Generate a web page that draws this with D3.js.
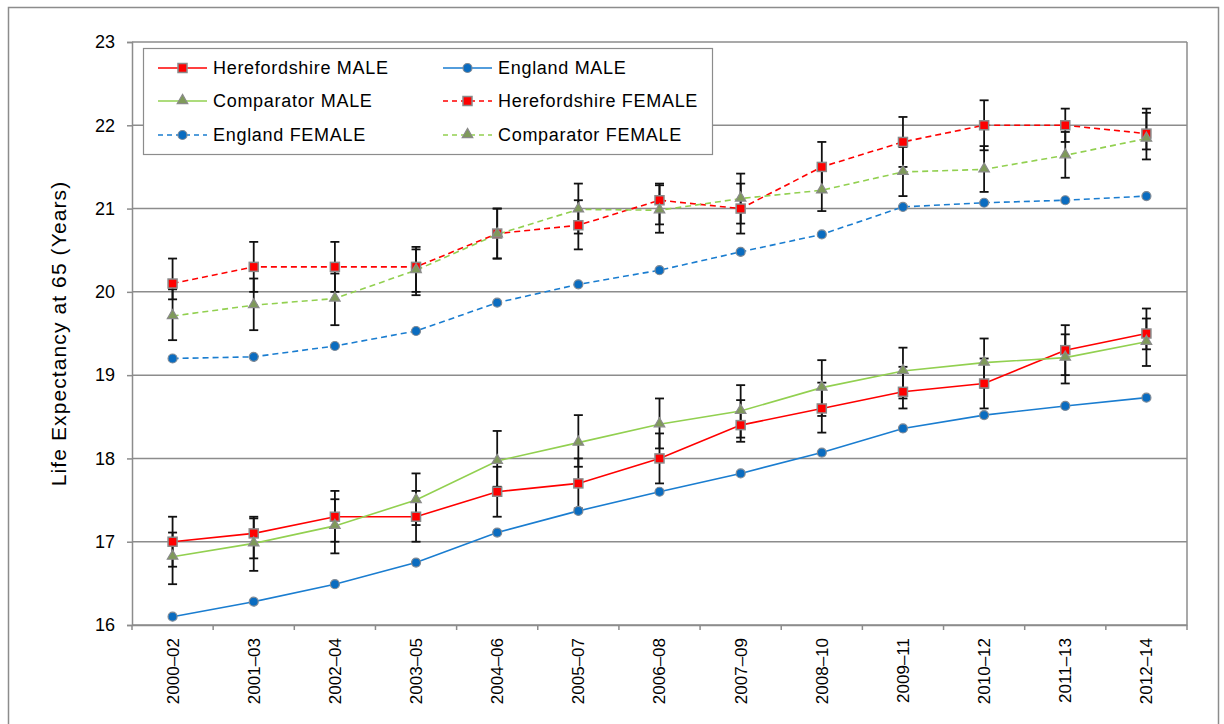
<!DOCTYPE html>
<meta charset="utf-8">
<style>
  body { margin: 0; background: white; }
  text { font-family: "Liberation Sans", Arial, sans-serif; fill: #000; }
</style>
<body>
<div id="chart"></div>
<script src="https://d3js.org/d3.v7.min.js"></script>
<script>

var periods = ["2000\u201302", "2001\u201303", "2002\u201304", "2003\u201305", "2004\u201306", "2005\u201307",
  "2006\u201308", "2007\u201309", "2008\u201310", "2009\u201311", "2010\u201312", "2011\u201313", "2012\u201314"];
var yTicks = [16, 17, 18, 19, 20, 21, 22, 23];

var hereMale = [17.0, 17.1, 17.3, 17.3, 17.6, 17.7, 18.0, 18.4, 18.6, 18.8, 18.9, 19.3, 19.5];
var hereMaleLo = [16.7, 16.8, 17.0, 17.0, 17.3, 17.4, 17.7, 18.2, 18.31, 18.6, 18.6, 19.0, 19.31];
var hereMaleHi = [17.3, 17.3, 17.61, 17.61, 17.9, 18.0, 18.3, 18.7, 18.91, 19.1, 19.2, 19.6, 19.8];

var engMale = [16.10, 16.28, 16.49, 16.75, 17.11, 17.37, 17.60, 17.82, 18.07, 18.36, 18.52, 18.63, 18.73];

var compMale = [16.82, 16.98, 17.19, 17.50, 17.97, 18.19, 18.41, 18.57, 18.85, 19.05, 19.15, 19.21, 19.40];
var compMaleLo = [16.49, 16.65, 16.86, 17.2, 17.66, 17.9, 18.12, 18.25, 18.51, 18.72, 18.85, 18.9, 19.11];
var compMaleHi = [17.11, 17.28, 17.51, 17.82, 18.33, 18.52, 18.72, 18.88, 19.18, 19.33, 19.44, 19.49, 19.68];

var hereFemale = [20.1, 20.3, 20.3, 20.3, 20.7, 20.8, 21.1, 21.0, 21.5, 21.8, 22.0, 22.0, 21.9];
var hereFemaleLo = [19.91, 20.0, 20.0, 20.0, 20.4, 20.51, 20.81, 20.7, 21.2, 21.5, 21.7, 21.8, 21.71];
var hereFemaleHi = [20.4, 20.6, 20.6, 20.54, 21.0, 21.1, 21.3, 21.3, 21.8, 22.1, 22.3, 22.2, 22.2];

var engFemale = [19.20, 19.22, 19.35, 19.53, 19.87, 20.09, 20.26, 20.48, 20.69, 21.02, 21.07, 21.10, 21.15];

var compFemale = [19.71, 19.84, 19.92, 20.26, 20.69, 20.99, 20.98, 21.12, 21.22, 21.44, 21.47, 21.64, 21.84];
var compFemaleLo = [19.42, 19.54, 19.6, 19.96, 20.4, 20.7, 20.71, 20.82, 20.97, 21.15, 21.2, 21.37, 21.59];
var compFemaleHi = [20.03, 20.16, 20.22, 20.51, 21.0, 21.3, 21.28, 21.42, 21.5, 21.74, 21.75, 21.92, 22.15];

var series = [
  {name: "Herefordshire MALE", values: hereMale, lo: hereMaleLo, hi: hereMaleHi, color: "#ff0000", dash: null, marker: "square"},
  {name: "England MALE", values: engMale, lo: null, hi: null, color: "#1a7dd0", dash: null, marker: "circle"},
  {name: "Comparator MALE", values: compMale, lo: compMaleLo, hi: compMaleHi, color: "#92d050", dash: null, marker: "triangle"},
  {name: "Herefordshire FEMALE", values: hereFemale, lo: hereFemaleLo, hi: hereFemaleHi, color: "#ff0000", dash: "6,4", marker: "square"},
  {name: "England FEMALE", values: engFemale, lo: null, hi: null, color: "#1a7dd0", dash: "6,4", marker: "circle"},
  {name: "Comparator FEMALE", values: compFemale, lo: compFemaleLo, hi: compFemaleHi, color: "#92d050", dash: "6,4", marker: "triangle"}
];

var W = 1224, H = 724;
var plot = {left: 132, top: 42, right: 1187, bottom: 625};

var svg = d3.select("#chart").append("svg")
  .attr("width", W).attr("height", H);

// outer chart border
svg.append("rect")
  .attr("x", 8.5).attr("y", 7.5)
  .attr("width", 1210).attr("height", 740)
  .attr("fill", "none").attr("stroke", "#8c8c8c").attr("stroke-width", 1.5);

var x = d3.scaleBand().domain(periods).range([plot.left, plot.right]).padding(0);
var y = d3.scaleLinear().domain([16, 23]).range([plot.bottom, plot.top]);
var cx = function(i) { return x(periods[i]) + x.bandwidth() / 2; };

// gridlines
svg.append("g").selectAll("line").data(yTicks).enter().append("line")
  .attr("x1", plot.left).attr("x2", plot.right)
  .attr("y1", function(d) { return y(d); }).attr("y2", function(d) { return y(d); })
  .attr("stroke", "#8c8c8c").attr("stroke-width", 1.5);

// right border of plot
svg.append("line")
  .attr("x1", plot.right).attr("x2", plot.right)
  .attr("y1", plot.top).attr("y2", plot.bottom)
  .attr("stroke", "#8c8c8c").attr("stroke-width", 1.5);

// y axis
var yAxis = svg.append("g")
  .attr("transform", "translate(" + plot.left + ",0)")
  .call(d3.axisLeft(y).tickValues(yTicks).tickSize(5).tickPadding(12).tickFormat(d3.format("d")));
yAxis.select(".domain").attr("stroke", "#8c8c8c").attr("stroke-width", 1.5);
yAxis.selectAll(".tick line").attr("stroke", "#8c8c8c").attr("stroke-width", 1.5);
yAxis.selectAll("text").style("font-size", "18px").attr("font-family", null);

// x axis
var xAxis = svg.append("g")
  .attr("transform", "translate(0," + plot.bottom + ")")
  .call(d3.axisBottom(x).tickSize(0).tickPadding(0));
xAxis.select(".domain").attr("stroke", "#8c8c8c").attr("stroke-width", 1.5);
xAxis.selectAll(".tick text")
  .style("font-size", "17px").attr("font-family", null)
  .attr("text-anchor", "end")
  .attr("dy", "0.35em")
  .attr("transform", "translate(0,13) rotate(-90)")
  .attr("x", 0).attr("y", 0);
// category boundary ticks
var bounds = d3.range(periods.length + 1);
svg.append("g").selectAll("line").data(bounds).enter().append("line")
  .attr("x1", function(d) { return plot.left + d * x.bandwidth(); })
  .attr("x2", function(d) { return plot.left + d * x.bandwidth(); })
  .attr("y1", plot.bottom).attr("y2", plot.bottom + 5)
  .attr("stroke", "#8c8c8c").attr("stroke-width", 1.5);

// y title
svg.append("text")
  .attr("transform", "translate(66," + ((plot.top + plot.bottom) / 2) + ") rotate(-90)")
  .attr("text-anchor", "middle")
  .style("font-size", "21px")
  .style("letter-spacing", "1.1px")
  .text("Life Expectancy at 65 (Years)");

// error bars
var capW = 4.5;
series.forEach(function(s) {
  if (!s.lo) return;
  var g = svg.append("g");
  s.values.forEach(function(v, i) {
    var px = cx(i);
    g.append("line").attr("x1", px).attr("x2", px)
      .attr("y1", y(s.lo[i])).attr("y2", y(s.hi[i]))
      .attr("stroke", "#111").attr("stroke-width", 1.8);
    [s.lo[i], s.hi[i]].forEach(function(e) {
      g.append("line").attr("x1", px - capW).attr("x2", px + capW)
        .attr("y1", y(e)).attr("y2", y(e))
        .attr("stroke", "#111").attr("stroke-width", 1.8);
    });
  });
});

// lines
var line = d3.line().x(function(d, i) { return cx(i); }).y(function(d) { return y(d); });
series.forEach(function(s) {
  svg.append("path").datum(s.values)
    .attr("d", line)
    .attr("fill", "none")
    .attr("stroke", s.color)
    .attr("stroke-width", 1.6)
    .attr("stroke-dasharray", s.dash);
});

function drawMarker(g, type, px, py) {
  if (type === "square") {
    g.append("rect").attr("x", px - 4.5).attr("y", py - 4.5).attr("width", 9).attr("height", 9)
      .attr("fill", "#ff0000").attr("stroke", "#8a8a8a").attr("stroke-width", 1.5);
  } else if (type === "circle") {
    g.append("circle").attr("cx", px).attr("cy", py).attr("r", 4.5)
      .attr("fill", "#0a6cc0").attr("stroke", "#7f8a96").attr("stroke-width", 1.2);
  } else {
    g.append("path")
      .attr("d", d3.symbol().type(d3.symbolTriangle).size(48)())
      .attr("transform", "translate(" + px + "," + (py - 0.5) + ")")
      .attr("fill", "#7f9a5a").attr("stroke", "#8a8a8a").attr("stroke-width", 1.2);
  }
}

// markers
series.forEach(function(s) {
  var g = svg.append("g");
  s.values.forEach(function(v, i) { drawMarker(g, s.marker, cx(i), y(v)); });
});

// legend
var legend = svg.append("g");
legend.append("rect")
  .attr("x", 143.5).attr("y", 48.5).attr("width", 569).attr("height", 106)
  .attr("fill", "white").attr("stroke", "#8c8c8c").attr("stroke-width", 1.2);
var cols = [158, 443];
var rows = [68, 101, 135];
series.forEach(function(s, i) {
  var lx = cols[i % 2], ly = rows[Math.floor(i / 2)];
  legend.append("line")
    .attr("x1", lx).attr("x2", lx + 49).attr("y1", ly).attr("y2", ly)
    .attr("stroke", s.color).attr("stroke-width", 1.6)
    .attr("stroke-dasharray", s.dash ? "5,4" : null);
  drawMarker(legend, s.marker, lx + 24.5, ly);
  legend.append("text")
    .attr("x", lx + 55).attr("y", ly).attr("dy", "0.35em")
    .style("font-size", "18px")
    .style("letter-spacing", "0.7px")
    .text(s.name);
});

</script>
</body>
